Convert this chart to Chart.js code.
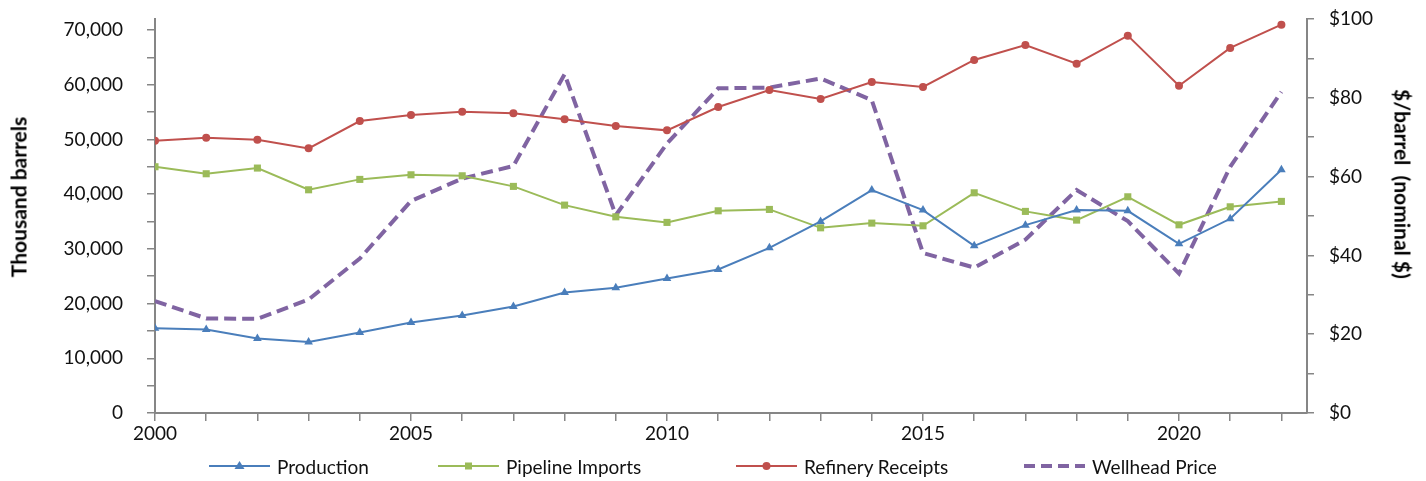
<!DOCTYPE html>
<html>
<head>
<meta charset="utf-8">
<script src="https://cdn.jsdelivr.net/npm/chart.js@4.4.1/dist/chart.umd.min.js"></script>
<style>
  html, body { margin: 0; padding: 0; background: #fff; }
  #wrap { position: relative; width: 1426px; height: 481px; font-family: Lato, sans-serif; }
  #legend { position: absolute; left: 0; top: 452px; width: 1426px; height: 28px; }
  .item { position: absolute; top: 0; height: 28px; display: flex; align-items: center; font-size: 19px; color: #111; white-space: nowrap; }
  .item svg { margin-right: 7px; }
  .axis-title { position: absolute; font-size: 21px; font-weight: bold; color: #000; white-space: pre; }
  #ttl-left { left: 18px; top: 197px; transform: translate(-50%, -50%) rotate(-90deg); }
  #ttl-right { left: 1403px; top: 184px; transform: translate(-50%, -50%) rotate(90deg); }
</style>
</head>
<body>
<div id="wrap">
  <canvas id="c"></canvas>
  <div class="axis-title" id="ttl-left"></div>
  <div class="axis-title" id="ttl-right"></div>
  <div id="legend"></div>
</div>
<script>
const years = [2000, 2001, 2002, 2003, 2004, 2005, 2006, 2007, 2008, 2009, 2010, 2011,
               2012, 2013, 2014, 2015, 2016, 2017, 2018, 2019, 2020, 2021, 2022];

// thousand barrels
const production = [15490, 15250, 13600, 12990, 14700, 16530, 17810, 19460, 22020, 22870, 24580, 26230,
                    30180, 35010, 40740, 37080, 30550, 34330, 37080, 36950, 30910, 35490, 44450];
const pipelineImports = [45000, 43720, 44760, 40790, 42690, 43530, 43350, 41410, 37990, 35850, 34830, 36950,
                         37200, 33840, 34700, 34210, 40240, 36840, 35250, 39510, 34390, 37680, 38670];
const refineryReceipts = [49750, 50300, 49940, 48360, 53360, 54450, 55060, 54760, 53660, 52440, 51650, 55920,
                          59030, 57380, 60490, 59580, 64520, 67260, 63840, 68960, 59810, 66710, 70970];
// $/barrel
const wellheadPrice = [28.4, 24.0, 23.9, 28.8, 39.2, 53.8, 59.5, 62.7, 86.0, 50.2, 68.4, 82.4,
                       82.6, 84.9, 79.4, 40.6, 36.9, 44.0, 56.6, 48.7, 35.4, 62.5, 81.5];

// axis ticks (minor ones carry no label)
const leftTicks = [0, 5000, 10000, 15000, 20000, 25000, 30000, 35000, 40000, 45000, 50000, 55000, 60000, 65000, 70000];
const rightTicks = [0, 10, 20, 30, 40, 50, 60, 70, 80, 90, 100];

const seriesNames = ['Production', 'Pipeline Imports', 'Refinery Receipts', 'Wellhead Price'];
const leftTitle = 'Thousand barrels';
const rightTitle = '$/barrel  (nominal $)';

const BLUE = '#4a7ebb', GREEN = '#9bbb59', RED = '#c0504d', PURPLE = '#8064a2', AXIS = '#868686';

const pts = arr => years.map((x, i) => ({ x, y: arr[i] }));
const setTicks = list => s => { s.ticks = list.map(value => ({ value })); };
const fixWidth = w => s => { s.width = w; s.paddingTop = 0; s.paddingBottom = 0; };

Chart.defaults.font.family = 'Lato, sans-serif';
Chart.defaults.font.size = 19;
Chart.defaults.color = '#111';

new Chart(document.getElementById('c'), {
  type: 'line',
  data: {
    datasets: [
      { label: seriesNames[0], data: pts(production), yAxisID: 'y', borderColor: BLUE, backgroundColor: BLUE,
        borderWidth: 2, pointStyle: 'triangle', pointRadius: 5, pointBorderWidth: 0, tension: 0 },
      { label: seriesNames[1], data: pts(pipelineImports), yAxisID: 'y', borderColor: GREEN, backgroundColor: GREEN,
        borderWidth: 2, pointStyle: 'rect', pointRadius: 5, pointBorderWidth: 0, tension: 0 },
      { label: seriesNames[2], data: pts(refineryReceipts), yAxisID: 'y', borderColor: RED, backgroundColor: RED,
        borderWidth: 2, pointStyle: 'circle', pointRadius: 4, pointBorderWidth: 0, tension: 0 },
      { label: seriesNames[3], data: pts(wellheadPrice), yAxisID: 'y1', borderColor: PURPLE, backgroundColor: PURPLE,
        borderWidth: 4, borderDash: [12, 6], pointRadius: 0, tension: 0 }
    ]
  },
  options: {
    responsive: true, maintainAspectRatio: false, animation: false,
    layout: { padding: { top: 19, left: 0, right: 0, bottom: 38 } },
    plugins: { legend: { display: false }, tooltip: { enabled: false } },
    scales: {
      x: {
        type: 'linear', min: 2000, max: 2022.5,
        afterBuildTicks: setTicks(years),
        afterFit: s => { s.height = 30; },
        ticks: { autoSkip: false, maxRotation: 0, padding: 1,
                 callback: v => (v % 5 === 0 ? String(v) : '') },
        grid: { drawOnChartArea: false, drawTicks: true, tickLength: 8, color: AXIS, lineWidth: 1.5 },
        border: { color: AXIS, width: 2 }
      },
      y: {
        position: 'left', min: 0, max: 72000,
        afterBuildTicks: setTicks(leftTicks),
        afterFit: fixWidth(155),
        ticks: { autoSkip: false, padding: 24,
                 callback: v => (v % 10000 === 0 ? v.toLocaleString('en-US') : '') },
        grid: { drawOnChartArea: false, drawTicks: true, tickLength: 8, color: AXIS, lineWidth: 1.5 },
        border: { color: AXIS, width: 2 }
      },
      y1: {
        position: 'right', min: 0, max: 100,
        afterBuildTicks: setTicks(rightTicks),
        afterFit: fixWidth(119),
        ticks: { autoSkip: false, padding: 15,
                 callback: v => (v % 20 === 0 ? '$' + v : '') },
        grid: { drawOnChartArea: false, drawTicks: true, tickLength: 7, color: AXIS, lineWidth: 1.5 },
        border: { color: AXIS, width: 2 }
      }
    }
  }
});

document.getElementById('ttl-left').textContent = leftTitle;
document.getElementById('ttl-right').textContent = rightTitle;

// legend built as html, like the reference's line + marker samples
const legendLeft = [209, 438, 736, 1024];
const swatch = [
  `<line x1="0" y1="7" x2="61" y2="7" stroke="${BLUE}" stroke-width="2"/><polygon points="30.5,2 35.5,10 25.5,10" fill="${BLUE}"/>`,
  `<line x1="0" y1="7" x2="61" y2="7" stroke="${GREEN}" stroke-width="2"/><rect x="27" y="3.5" width="7" height="7" fill="${GREEN}"/>`,
  `<line x1="0" y1="7" x2="61" y2="7" stroke="${RED}" stroke-width="2"/><circle cx="30.5" cy="7" r="4" fill="${RED}"/>`,
  `<line x1="0" y1="7" x2="61" y2="7" stroke="${PURPLE}" stroke-width="4" stroke-dasharray="11 6"/>`
];
const legend = document.getElementById('legend');
seriesNames.forEach((name, i) => {
  const el = document.createElement('div');
  el.className = 'item';
  el.style.left = legendLeft[i] + 'px';
  el.innerHTML = `<svg width="61" height="14" viewBox="0 0 61 14">${swatch[i]}</svg><span>${name}</span>`;
  legend.appendChild(el);
});
</script>
</body>
</html>
